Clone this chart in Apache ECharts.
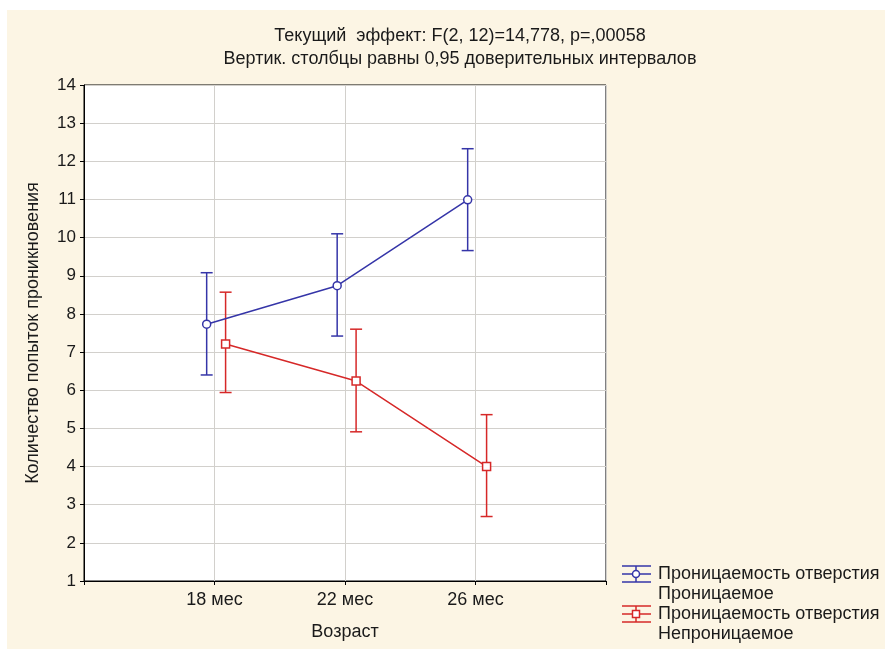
<!DOCTYPE html>
<html>
<head>
<meta charset="utf-8">
<script src="https://cdn.jsdelivr.net/npm/echarts@6/dist/echarts.min.js"></script>
<style>
  html, body { margin: 0; padding: 0; }
  #chart { width: 885px; height: 649px; }
</style>
</head>
<body>
<div id="chart"></div>
<script>
// data
const categories = ['18 мес', '22 мес', '26 мес']
const permMean = [7.73, 8.74, 10.99]
const permLow = [6.40, 7.42, 9.66]
const permHigh = [9.08, 10.10, 12.33]
const impermMean = [7.21, 6.24, 4.00]
const impermLow = [5.94, 4.91, 2.69]
const impermHigh = [8.57, 7.60, 5.36]
const seriesNames = ['Проницаемость отверстия\nПроницаемое', 'Проницаемость отверстия\nНепроницаемое']

const blue = '#3535a8'
const red = '#d62828'
const font = '"Liberation Sans", Arial, sans-serif'
const textColor = '#1a1a1a'

// small horizontal shift of each group so the bars do not overlap
const blueShift = -0.06
const redShift = 0.085

function points(means, shift) {
  return means.map((v, i) => [i + 1 + shift, v])
}
function ranges(lows, highs, shift) {
  return lows.map((lo, i) => [i + 1 + shift, lo, highs[i]])
}

function errorBar(color) {
  return function (params, api) {
    const x = api.value(0)
    const top = api.coord([x, api.value(2)])
    const bot = api.coord([x, api.value(1)])
    const hw = 6
    const st = { stroke: color, lineWidth: 1.5 }
    return {
      type: 'group',
      children: [
        { type: 'line', shape: { x1: top[0], y1: top[1], x2: bot[0], y2: bot[1] }, style: st },
        { type: 'line', shape: { x1: top[0] - hw, y1: top[1], x2: top[0] + hw, y2: top[1] }, style: st },
        { type: 'line', shape: { x1: bot[0] - hw, y1: bot[1], x2: bot[0] + hw, y2: bot[1] }, style: st }
      ]
    }
  }
}

function legendItem(y, color, symbol, name) {
  const st = { stroke: color, lineWidth: 1.5 }
  const mark = symbol === 'circle'
    ? { type: 'circle', shape: { cx: 14, cy: 0, r: 3.5 }, style: { fill: '#fff', stroke: color, lineWidth: 1.5 } }
    : { type: 'rect', shape: { x: 10.5, y: -3.5, width: 7, height: 7 }, style: { fill: '#fff', stroke: color, lineWidth: 1.5 } }
  return {
    type: 'group',
    x: 622,
    y: y,
    children: [
      { type: 'line', shape: { x1: 0, y1: -8, x2: 29, y2: -8 }, style: st },
      { type: 'line', shape: { x1: 0, y1: 0, x2: 29, y2: 0 }, style: st },
      { type: 'line', shape: { x1: 0, y1: 8, x2: 29, y2: 8 }, style: st },
      { type: 'line', shape: { x1: 14, y1: -8, x2: 14, y2: 8 }, style: st },
      mark,
      {
        type: 'text',
        x: 36,
        y: -10,
        style: { text: name, font: '18px ' + font, fill: textColor, lineHeight: 20 }
      }
    ]
  }
}

const chart = echarts.init(document.getElementById('chart'))
chart.setOption({
  backgroundColor: '#fcf5e4',
  animation: false,
  title: {
    text: 'Текущий  эффект: F(2, 12)=14,778, p=,00058\nВертик. столбцы равны 0,95 доверительных интервалов',
    left: 455,
    top: 20,
    textAlign: 'center',
    textStyle: { fontFamily: font, fontSize: 18, fontWeight: 'normal', color: textColor, lineHeight: 23 }
  },
  graphic: [
    { type: 'rect', shape: { x: 0, y: 0, width: 885, height: 10 }, style: { fill: '#fff' }, silent: true },
    { type: 'rect', shape: { x: 0, y: 0, width: 7, height: 649 }, style: { fill: '#fff' }, silent: true },
    legendItem(574, blue, 'circle', seriesNames[0]),
    legendItem(614, red, 'rect', seriesNames[1])
  ],
  grid: {
    left: 84,
    top: 85,
    width: 522,
    height: 496,
    show: true,
    backgroundColor: '#fff',
    borderColor: '#000',
    borderWidth: 1
  },
  xAxis: {
    type: 'value',
    min: 0,
    max: 4,
    interval: 1,
    name: 'Возраст',
    nameLocation: 'middle',
    nameGap: 42,
    nameTextStyle: { fontFamily: font, fontSize: 18, color: textColor },
    axisLine: { show: true, lineStyle: { color: '#000' } },
    axisTick: { show: true, length: 4, lineStyle: { color: '#000' } },
    axisLabel: {
      fontFamily: font, fontSize: 18, color: textColor, margin: 10,
      formatter: v => categories[v - 1] || ''
    },
    splitLine: { show: true, lineStyle: { color: '#d2d0cc' } }
  },
  yAxis: {
    type: 'value',
    min: 1,
    max: 14,
    interval: 1,
    name: 'Количество попыток проникновения',
    nameLocation: 'middle',
    nameGap: 42,
    nameTextStyle: { fontFamily: font, fontSize: 18, color: textColor },
    axisLine: { show: true, lineStyle: { color: '#000' } },
    axisTick: { show: true, length: 4, lineStyle: { color: '#000' } },
    axisLabel: { fontFamily: font, fontSize: 17, color: textColor, margin: 8 },
    splitLine: { show: true, lineStyle: { color: '#d2d0cc' } }
  },
  series: [
    {
      type: 'custom',
      name: seriesNames[0],
      renderItem: errorBar(blue),
      data: ranges(permLow, permHigh, blueShift),
      z: 2
    },
    {
      type: 'custom',
      name: seriesNames[1],
      renderItem: errorBar(red),
      data: ranges(impermLow, impermHigh, redShift),
      z: 2
    },
    {
      type: 'line',
      name: seriesNames[0],
      data: points(permMean, blueShift),
      symbol: 'circle',
      symbolSize: 8,
      lineStyle: { color: blue, width: 1.5 },
      itemStyle: { color: '#fff', borderColor: blue, borderWidth: 1.5 },
      z: 3
    },
    {
      type: 'line',
      name: seriesNames[1],
      data: points(impermMean, redShift),
      symbol: 'rect',
      symbolSize: 8,
      lineStyle: { color: red, width: 1.5 },
      itemStyle: { color: '#fff', borderColor: red, borderWidth: 1.5 },
      z: 3
    }
  ]
})
</script>
</body>
</html>
